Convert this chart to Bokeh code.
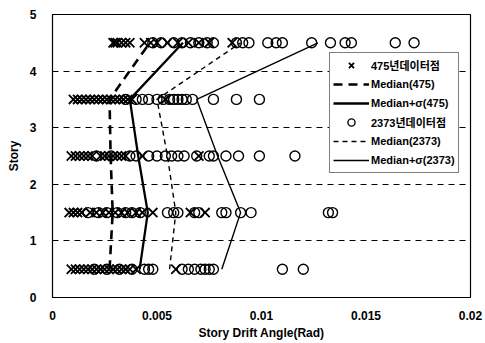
from bokeh.plotting import figure
from bokeh.models import ColumnDataSource, Legend, LegendItem, FixedTicker, Range1d
from bokeh.embed import file_html
from bokeh.resources import INLINE

# ---- data ----
stories = [0.5, 1.5, 2.5, 3.5, 4.5]

x475_s05 = [0.0009, 0.0011, 0.0013, 0.0015, 0.0017, 0.0019, 0.0021, 0.0023, 0.0025, 0.0027,
            0.0029, 0.0031, 0.0033, 0.0035, 0.0037, 0.0040, 0.0059]
x475_s15 = [0.0008, 0.0010, 0.0012, 0.0014, 0.0018, 0.0021, 0.0024, 0.0027, 0.0030, 0.0033,
            0.0036, 0.0040, 0.0043, 0.0048, 0.0066, 0.0073]
x475_s25 = [0.0009, 0.0011, 0.0013, 0.0015, 0.0017, 0.0019, 0.0023, 0.0025, 0.0027, 0.0029,
            0.0031, 0.0033, 0.0035, 0.0043, 0.0070]
x475_s35 = [0.0010, 0.0012, 0.0014, 0.0016, 0.0018, 0.0020, 0.0022, 0.0024, 0.0026, 0.0028,
            0.0030, 0.0032, 0.0034, 0.0036, 0.0038, 0.0054]
x475_s45 = [0.0029, 0.0030, 0.0031, 0.0033, 0.0035, 0.0037, 0.0044, 0.0047, 0.0050, 0.0055,
            0.0060, 0.0065, 0.0070, 0.0075, 0.0086]

x2373_s05 = [0.0020, 0.0026, 0.0032, 0.0038, 0.0044, 0.0046, 0.0048, 0.0062, 0.0065, 0.0068,
             0.0071, 0.0073, 0.0075, 0.0077, 0.0110, 0.0120]
x2373_s15 = [0.0017, 0.0022, 0.0026, 0.0031, 0.0035, 0.0038, 0.0042, 0.0055, 0.0058, 0.0060,
             0.0068, 0.0070, 0.0081, 0.0083, 0.0090, 0.0095, 0.0132, 0.0134]
x2373_s25 = [0.0021, 0.0028, 0.0037, 0.0040, 0.0046, 0.0050, 0.0054, 0.0057, 0.0060, 0.0063,
             0.0069, 0.0075, 0.0077, 0.0083, 0.0089, 0.0099, 0.0116]
x2373_s35 = [0.0035, 0.0040, 0.0043, 0.0046, 0.0050, 0.0053, 0.0056, 0.0058, 0.0060, 0.0062,
             0.0064, 0.0067, 0.0077, 0.0088, 0.0099]
x2373_s45 = [0.0048, 0.0052, 0.0058, 0.0062, 0.0066, 0.0070, 0.0074, 0.0077, 0.0088, 0.0091,
             0.0094, 0.0103, 0.0107, 0.0110, 0.0124, 0.0133, 0.0140, 0.0143, 0.0164, 0.0173]

median_475 = [0.00273, 0.00288, 0.00278, 0.00273, 0.00465]
median_sigma_475 = [0.00417, 0.00456, 0.00410, 0.00370, 0.00624]
median_2373 = [0.00560, 0.00590, 0.00550, 0.00500, 0.00900]
median_sigma_2373 = [0.00810, 0.00900, 0.00790, 0.00690, 0.01270]

x_ticks = [0, 0.005, 0.01, 0.015, 0.02]
x_tick_labels = ["0", "0.005", "0.01", "0.015", "0.02"]
y_ticks = [0, 1, 2, 3, 4, 5]

labels = ["475년데이터점", "Median(475)", "Median+σ(475)",
          "2373년데이터점", "Median(2373)", "Median+σ(2373)"]

# ---- build sources ----
def flatten(groups):
    xs, ys = [], []
    for s, g in zip(stories, groups):
        xs += g
        ys += [s] * len(g)
    return xs, ys

xa, ya = flatten([x475_s05, x475_s15, x475_s25, x475_s35, x475_s45])
xb, yb = flatten([x2373_s05, x2373_s15, x2373_s25, x2373_s35, x2373_s45])

FONT = "'Liberation Sans', Arial, 'Noto Sans CJK KR'"

p = figure(width=485, height=343, x_range=Range1d(0, 0.02), y_range=Range1d(0, 5),
           output_backend="svg", toolbar_location=None,
           min_border_left=52, min_border_right=15, min_border_top=14, min_border_bottom=46)

p.background_fill_color = "white"
p.border_fill_color = "white"
p.outline_line_color = "black"
p.outline_line_width = 1.2

# grids
p.xgrid.visible = False
p.ygrid.grid_line_color = "black"
p.ygrid.grid_line_dash = "6 5"
p.ygrid.grid_line_width = 1

# axes
p.xaxis.ticker = FixedTicker(ticks=x_ticks)
p.xaxis.major_label_overrides = {t: l for t, l in zip(x_ticks, x_tick_labels)}
p.yaxis.ticker = FixedTicker(ticks=y_ticks)
p.ygrid.ticker = FixedTicker(ticks=[1, 2, 3, 4])
for ax in (p.xaxis, p.yaxis):
    ax.axis_line_color = "black"
    ax.major_tick_line_color = None
    ax.minor_tick_line_color = None
    ax.major_label_text_font = FONT
    ax.major_label_text_font_style = "bold"
    ax.major_label_text_font_size = "12px"
    ax.major_label_text_color = "black"
    ax.axis_label_text_font = FONT
    ax.axis_label_text_font_style = "bold"
    ax.axis_label_text_font_size = "12px"
    ax.axis_label_text_color = "black"
p.xaxis.axis_label = "Story Drift Angle(Rad)"
p.yaxis.axis_label = "Story"
p.xaxis.major_label_standoff = 7
p.xaxis.axis_label_standoff = 3
p.yaxis.major_label_standoff = 10
p.yaxis.axis_label_standoff = 6

# data points
r_x = p.scatter(xa, ya, marker="x", size=13, line_color="black", line_width=1.8)
r_o = p.scatter(xb, yb, marker="circle", size=10, line_color="black", line_width=1.4,
                fill_color="white", fill_alpha=0.0)

# median lines
r_m475 = p.line(median_475, stories, line_color="black", line_width=2.6, line_dash="9 6")
r_ms475 = p.line(median_sigma_475, stories, line_color="black", line_width=2.3)
r_m2373 = p.line(median_2373, stories, line_color="black", line_width=1.4, line_dash="5 4")
r_ms2373 = p.line(median_sigma_2373, stories, line_color="black", line_width=1.4)

legend = Legend(items=[
    LegendItem(label=labels[0], renderers=[r_x]),
    LegendItem(label=labels[1], renderers=[r_m475]),
    LegendItem(label=labels[2], renderers=[r_ms475]),
    LegendItem(label=labels[3], renderers=[r_o]),
    LegendItem(label=labels[4], renderers=[r_m2373]),
    LegendItem(label=labels[5], renderers=[r_ms2373]),
], location=(277, 124))
legend.label_text_font = FONT
legend.label_text_font_style = "bold"
legend.label_text_font_size = "11px"
legend.label_text_color = "black"
legend.label_height = 18
legend.glyph_height = 18
legend.glyph_width = 36
legend.label_standoff = 2
legend.spacing = 1
legend.padding = 3
legend.margin = 0
legend.border_line_color = "black"
legend.border_line_width = 1.5
legend.background_fill_color = "white"
legend.background_fill_alpha = 1.0
p.add_layout(legend, "center")

open("out.html", "w").write(file_html(p, INLINE))
